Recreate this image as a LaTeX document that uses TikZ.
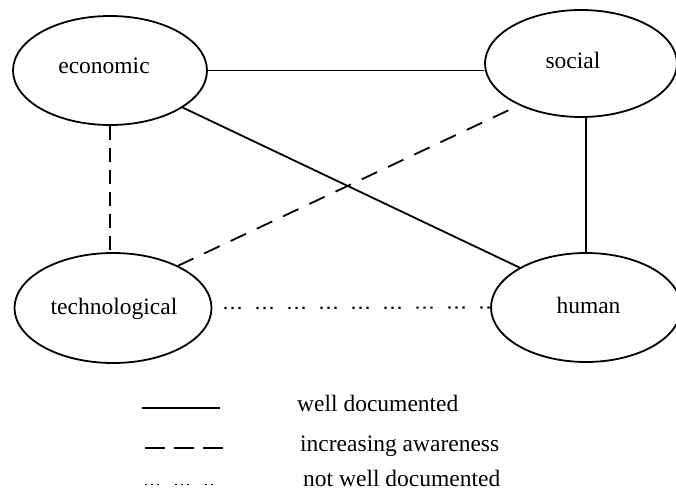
\documentclass[tikz,border=0pt]{standalone}
\usepackage{fontspec}
\setmainfont{Liberation Serif}
\usetikzlibrary{shapes.geometric}
\begin{document}
\begin{tikzpicture}[x=1pt,y=-1pt,
  factor/.style={draw, ellipse, line width=1.8pt, inner sep=0pt},
  lbl/.style={font=\fontsize{23.5}{28}\selectfont, inner sep=0pt},
  wellline/.style={line width=1.8pt},
  awarevert/.style={line width=2pt, dash pattern=on 14pt off 8pt},
  awarediag/.style={line width=1.8pt, dash pattern=on 17pt off 12pt},
  awarelegend/.style={line width=1.8pt, dash pattern=on 20pt off 9pt},
  notline/.style={line width=2.2pt, dash pattern=on 2.2pt off 4.8pt on 2.2pt off 4.8pt on 2.2pt off 15.8pt},
  notlegend/.style={line width=1.8pt, dash pattern=on 1.8pt off 4.2pt on 1.8pt off 4.2pt on 1.8pt off 16.2pt}]
\useasboundingbox (0,0) rectangle (676,492);
% factors
\node[factor, minimum width=194pt, minimum height=109pt] (eco) at (110,70.5) {};
\node[factor, minimum width=192pt, minimum height=107pt] (soc) at (581,63.5) {};
\node[factor, minimum width=197pt, minimum height=110pt] (tech) at (113,308) {};
\node[factor, minimum width=190pt, minimum height=109pt] (hum) at (586,307.5) {};
\node[lbl, anchor=base] (ecot) at (104,73.5) {economic};
\node[lbl, anchor=base] (soct) at (573,68.3) {social};
\node[lbl, anchor=base] (techt) at (114,314.3) {technological};
\node[lbl, anchor=base] (humt) at (588.5,313.3) {human};
% connectors
\draw[wellline] (eco.east) -- (eco.east -| soc.west);
\draw[wellline] (eco.-27) -- (hum.149);
\draw[wellline] (hum.north) -- (hum.north |- soc.south);
\draw[awarevert] (eco.south) -- (eco.south |- tech.north);
\draw[awarediag] (tech.33) -- (soc.214);
\draw[notline, shorten <=12pt] (tech.east) -- (hum.west);
% legend
\coordinate (l1a) at (142,408);
\coordinate (l1b) at (220,408);
\coordinate (l2a) at (145,448);
\coordinate (l2b) at (223,448);
\coordinate (l3a) at (145,484.5);
\coordinate (l3b) at (217,484.5);
\draw[wellline] (l1a) -- (l1b);
\draw[awarelegend] (l2a) -- (l2b);
\draw[notlegend] (l3a) -- (l3b);
\node[lbl, anchor=base west] (t1) at (297,411.7) {well documented};
\node[lbl, anchor=base west] (t2) at (300,451) {increasing awareness};
\node[lbl, anchor=base west] (t3) at (303,486.3) {not well documented};
\end{tikzpicture}
\end{document}
